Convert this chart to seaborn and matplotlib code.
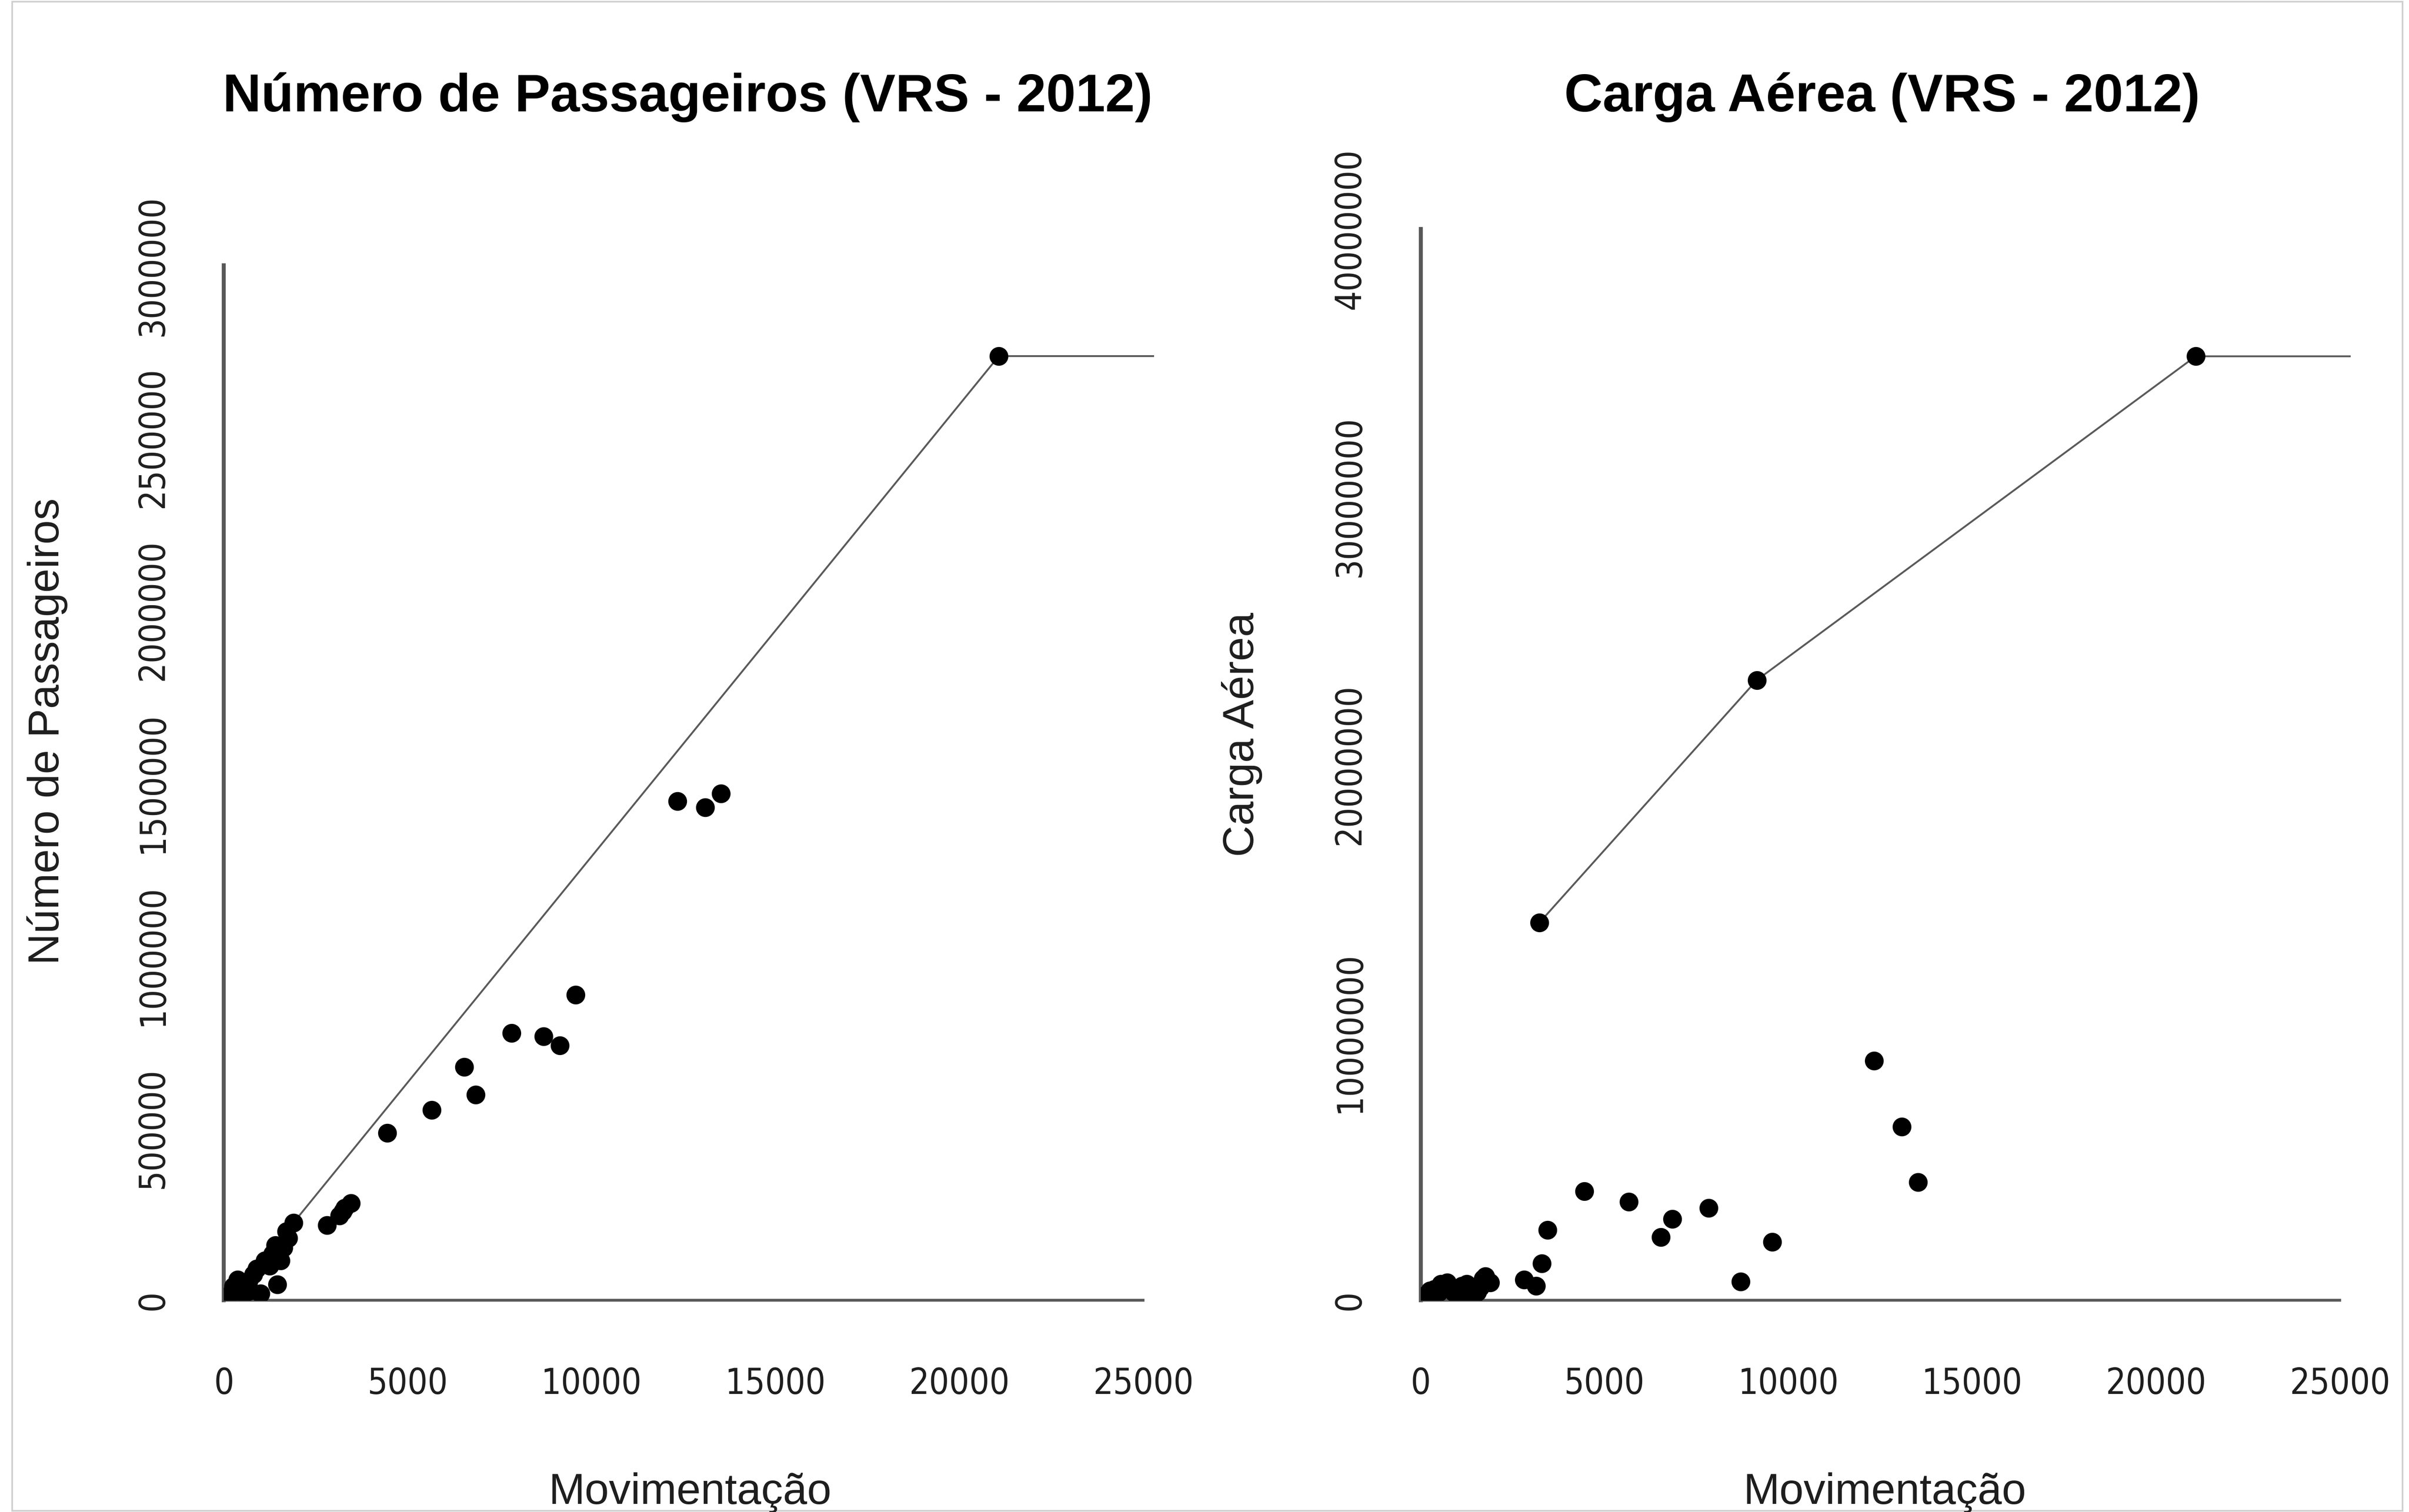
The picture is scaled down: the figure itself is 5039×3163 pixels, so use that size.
import matplotlib
matplotlib.use("Agg")
import matplotlib.pyplot as plt
import seaborn as sns
import pandas as pd
from matplotlib import font_manager
from matplotlib.patches import Rectangle

# ---------------- data ----------------
movimentacao = [21077, 13522, 13085, 12333, 9560, 9140, 8700, 7825, 6845, 6530, 5655, 4445,
                3450, 3290, 3230, 3140, 2810,
                1888, 1757, 1620, 1541, 1455, 1325, 1120, 890, 715, 675, 370, 329, 175, 100, 500, 1000,
                1700, 1400, 1250, 800, 550, 250]
passageiros = [2737000, 1468800, 1428800, 1446600, 885800, 738900, 765600, 774500, 596400, 676600, 551900, 485200,
               281000, 268000, 258000, 245000, 218000,
               224000, 180000, 152000, 115000, 46000, 134000, 115000, 92000, 28000, 55000, 60000, 32000, 18000, 8000, 40000, 20000,
               200000, 160000, 100000, 75000, 20000, 40000]
carga = [35240000, 4413000, 6476000, 8940000, 2178000, 23150000, 688000, 3438000, 3037000, 2350000, 3668000, 4069000,
         2616000, 1368000, 14097000, 535000, 773000,
         654000, 892000, 476000, 300000, 297000, 400000, 535000, 297000, 654000, 450000, 416000, 200000, 238000, 100000, 300000, 150000,
         800000, 250000, 600000, 500000, 600000, 350000]

# efficient units (indices) defining the VRS frontier of each panel
frontier_pax = [17, 0]
frontier_carga = [14, 5, 0]

titles = ["Número de Passageiros (VRS - 2012)", "Carga Aérea (VRS - 2012)"]
ylabels = ["Número de Passageiros", "Carga Aérea"]
xlabel = "Movimentação"
x_ticks = [0, 5000, 10000, 15000, 20000, 25000]
x_tick_labels = ["0", "5000", "10000", "15000", "20000", "25000"]
y_ticks_pax = [0, 500000, 1000000, 1500000, 2000000, 2500000, 3000000]
y_tick_labels_pax = ["0", "500000", "1000000", "1500000", "2000000", "2500000", "3000000"]
y_ticks_carga = [0, 10000000, 20000000, 30000000, 40000000]
y_tick_labels_carga = ["0", "10000000", "20000000", "30000000", "40000000"]

df = pd.DataFrame({"Movimentacao": movimentacao, "Passageiros": passageiros, "Carga": carga})

# ---------------- style ----------------
sns.set_style("white")
plt.rcParams["font.family"] = ["Liberation Sans", "DejaVu Sans"]

names = {f.name for f in font_manager.fontManager.ttflist}
if "Liberation Sans Narrow" in names:
    tick_fp = font_manager.FontProperties(family="Liberation Sans Narrow", size=62)
elif any(f.name == "DejaVu Sans" and f.stretch == "condensed" for f in font_manager.fontManager.ttflist):
    tick_fp = font_manager.FontProperties(family="DejaVu Sans", stretch="condensed", size=53)
else:
    tick_fp = font_manager.FontProperties(family="Liberation Sans", size=53)

W, H = 5039, 3163
fig = plt.figure(figsize=(W / 100, H / 100), dpi=100)
fig.patch.set_facecolor("white")

axis_col = "#585858"
text_col = "#1e1e1e"

ax_rects = [
    [468.3 / W, 443 / H, 1945.8 / W, 2237 / H],
    [2971.7 / W, 443 / H, 1945.8 / W, 2297.4 / H],
]
ylims = [3100000, 41000000]
ycols = ["Passageiros", "Carga"]
frontiers = [frontier_pax, frontier_carga]
yticks = [y_ticks_pax, y_ticks_carga]
yticklabels = [y_tick_labels_pax, y_tick_labels_carga]
title_x = [0.2854, 0.7813]
ylab_x = [123 / W, 2621.7 / W]
ylab_y = [0.5163, 0.5142]
xlab_x = [0.2864, 0.7823]

for i in range(2):
    ax = fig.add_axes(ax_rects[i])
    ax.set_facecolor("white")
    x_right = 25300
    ax.set_xlim(0, x_right)
    ax.set_ylim(0, ylims[i])

    fr = frontiers[i]
    fx = [movimentacao[k] for k in fr] + [x_right]
    fy = [df[ycols[i]].iloc[k] for k in fr] + [df[ycols[i]].iloc[fr[-1]]]
    sns.lineplot(x=fx, y=fy, ax=ax, color="#5a5a5a", linewidth=2.8, sort=False,
                 estimator=None, zorder=2)
    sns.scatterplot(data=df, x="Movimentacao", y=ycols[i], ax=ax, color="black", s=800,
                    linewidth=0, zorder=3, legend=False)

    ax.set_xlabel("")
    ax.set_ylabel("")
    for side in ["top", "right"]:
        ax.spines[side].set_visible(False)
    ax.spines["left"].set_bounds(0, yticks[i][-1])
    ax.spines["bottom"].set_bounds(0, x_ticks[-1])
    ax.spines["left"].set_linewidth(6)
    ax.spines["bottom"].set_linewidth(4.2)
    for side in ["left", "bottom"]:
        ax.spines[side].set_color(axis_col)

    ax.set_xticks(x_ticks)
    ax.set_xticklabels(x_tick_labels, fontproperties=tick_fp, color=text_col)
    ax.set_yticks(yticks[i])
    ax.set_yticklabels(yticklabels[i], fontproperties=tick_fp, color=text_col,
                       rotation=90, va="center")
    ax.tick_params(axis="x", direction="out", length=40, width=3.8, color=axis_col, pad=60)
    ax.tick_params(axis="y", direction="out", length=38, width=3.8, color=axis_col, pad=42)

    fig.text(title_x[i], 1 - 233 / H, titles[i], ha="center", va="baseline",
             fontsize=80, fontweight="bold", color="black")
    fig.text(ylab_x[i], ylab_y[i], ylabels[i], rotation=90, rotation_mode="anchor",
             ha="center", va="baseline", fontsize=65.5, color=text_col)
    fig.text(xlab_x[i], (H - 3146) / H, xlabel, ha="center", va="baseline",
             fontsize=65.5, color=text_col)

fig.add_artist(Rectangle((25 / W, 3 / H), (5025 - 25) / W, (3146 - 3 + 14) / H,
                         transform=fig.transFigure, fill=False, edgecolor="#cfcfcf", linewidth=2.5))

fig.savefig("out.png", dpi=100, facecolor="white")
